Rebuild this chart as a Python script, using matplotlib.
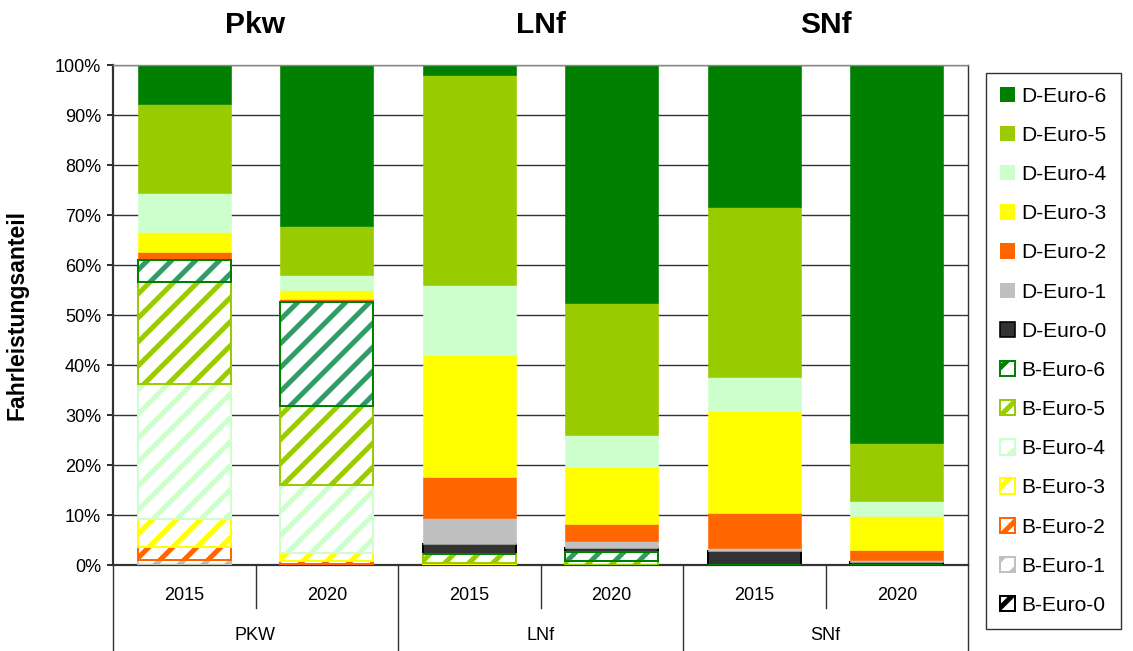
import matplotlib
matplotlib.use("Agg")
import matplotlib.pyplot as plt
from matplotlib.patches import Patch
from matplotlib.lines import Line2D

# rendered at 144 dpi so that the "//" hatch gets ~12 px stripe spacing;
# all sizes below are given in pixels and converted to points
DPI = 144
PX = 72 / DPI

plt.rcParams["font.family"] = ["Liberation Sans", "DejaVu Sans"]
plt.rcParams["hatch.linewidth"] = 5.0 * PX

# bars: Pkw 2015, Pkw 2020, LNf 2015, LNf 2020, SNf 2015, SNf 2020
years = ["2015", "2020", "2015", "2020", "2015", "2020"]
groups = ["PKW", "LNf", "SNf"]
titles = ["Pkw", "LNf", "SNf"]

# shares in %
b_euro_0 = [0.0, 0.0, 0.0, 0.0, 0.0, 0.0]
b_euro_1 = [1.0, 0.2, 0.0, 0.0, 0.0, 0.0]
b_euro_2 = [2.7, 0.6, 0.0, 0.0, 0.0, 0.0]
b_euro_3 = [5.6, 1.6, 0.5, 0.0, 0.0, 0.0]
b_euro_4 = [27.0, 13.6, 0.0, 0.0, 0.0, 0.0]
b_euro_5 = [20.4, 15.9, 1.8, 0.8, 0.0, 0.0]
b_euro_6 = [4.4, 20.8, 0.0, 1.9, 0.0, 0.0]
d_euro_0 = [0.0, 0.0, 1.9, 0.8, 2.8, 0.7]
d_euro_1 = [0.0, 0.0, 5.2, 1.4, 0.7, 0.4]
d_euro_2 = [1.6, 0.6, 8.3, 3.4, 7.0, 2.0]
d_euro_3 = [4.0, 1.7, 24.3, 11.3, 20.4, 6.8]
d_euro_4 = [7.8, 3.0, 14.0, 6.4, 6.7, 2.9]
d_euro_5 = [17.8, 9.8, 42.0, 26.4, 34.0, 11.7]
d_euro_6 = [7.7, 32.2, 2.0, 47.6, 28.4, 75.5]

# (label, values, fill/hatch colour, outline colour, hatched)
series = [
    ("B-Euro-0", b_euro_0, "#333333", "#000000", True),
    ("B-Euro-1", b_euro_1, "#C0C0C0", "#C0C0C0", True),
    ("B-Euro-2", b_euro_2, "#FF6600", "#FF6600", True),
    ("B-Euro-3", b_euro_3, "#FFFF00", "#FFFF00", True),
    ("B-Euro-4", b_euro_4, "#CCFFCC", "#CCFFCC", True),
    ("B-Euro-5", b_euro_5, "#99CC00", "#99CC00", True),
    ("B-Euro-6", b_euro_6, "#339966", "#008000", True),
    ("D-Euro-0", d_euro_0, "#333333", "#000000", False),
    ("D-Euro-1", d_euro_1, "#C0C0C0", "#C0C0C0", False),
    ("D-Euro-2", d_euro_2, "#FF6600", "#FF6600", False),
    ("D-Euro-3", d_euro_3, "#FFFF00", "#FFFF00", False),
    ("D-Euro-4", d_euro_4, "#CCFFCC", "#CCFFCC", False),
    ("D-Euro-5", d_euro_5, "#99CC00", "#99CC00", False),
    ("D-Euro-6", d_euro_6, "#008000", "#008000", False),
]

fig = plt.figure(figsize=(1133 / DPI, 651 / DPI), dpi=DPI)
ax = fig.add_axes([113 / 1133, 1 - 565 / 651, 855 / 1133, 500 / 651])

x = [i + 0.5 for i in range(len(years))]
width = 0.65
bottom = [0.0] * len(years)
handles = []
for label, vals, color, edge, hatched in series:
    if hatched:
        ax.bar(x, vals, width, bottom=bottom, color="white", edgecolor=color,
               hatch="//", linewidth=0, zorder=2)
        ax.bar(x, vals, width, bottom=bottom, fill=False, edgecolor=edge,
               linewidth=2.0 * PX if any(vals) else 0, zorder=3)
        handles.append(Patch(facecolor="white", edgecolor=edge, hatch="//",
                             linewidth=2.0 * PX, label=label))
    else:
        lw = 2.0 * PX if edge != color else 0.6 * PX
        ax.bar(x, vals, width, bottom=bottom, color=color, edgecolor=edge,
               linewidth=lw, zorder=2)
        handles.append(Patch(facecolor=color, edgecolor=edge,
                             linewidth=1.6 * PX if edge != color else 0,
                             label=label))
    bottom = [b + v for b, v in zip(bottom, vals)]

ax.set_xlim(0, 6)
ax.set_ylim(0, 100)
ax.set_yticks(range(0, 101, 10))
ax.set_yticklabels([f"{v}%" for v in range(0, 101, 10)], fontsize=18 * PX)
ax.set_xticks([])
ax.yaxis.grid(True, color="#333333", linewidth=1.4 * PX)
ax.set_axisbelow(True)
ax.tick_params(axis="y", length=6 * PX, width=1.6 * PX, pad=6 * PX)
ax.set_ylabel("Fahrleistungsanteil", fontsize=23 * PX, fontweight="bold")
ax.yaxis.set_label_coords(-0.099, 0.5)

for side in ["left", "bottom"]:
    ax.spines[side].set_color("#333333")
    ax.spines[side].set_linewidth(2.2 * PX)
ax.spines["top"].set_color("#888888")
ax.spines["top"].set_linewidth(1.4 * PX)
ax.spines["right"].set_color("#333333")
ax.spines["right"].set_linewidth(1.4 * PX)

# category axis below the plot
tr = ax.get_xaxis_transform()
for i, yr in enumerate(years):
    ax.text(i + 0.5, -0.062, yr, transform=tr, ha="center", va="center",
            fontsize=18 * PX)
for i in range(7):
    y_end = -0.172 if i % 2 == 0 else -0.086
    ax.add_line(Line2D([i, i], [0, y_end], transform=tr, color="#333333",
                       linewidth=1.4 * PX, clip_on=False))
for g, (grp, ttl) in enumerate(zip(groups, titles)):
    ax.text(2 * g + 1, -0.142, grp, transform=tr, ha="center", va="center",
            fontsize=18 * PX)
    ax.text(2 * g + 1, 1.08, ttl, transform=tr, ha="center", va="center",
            fontsize=30 * PX, fontweight="bold")

leg = fig.legend(handles=handles[::-1], loc="upper left",
                 bbox_to_anchor=(986 / 1133, 1 - 73 / 651), fontsize=21 * PX,
                 frameon=True, fancybox=False, edgecolor="black",
                 handlelength=0.75, handleheight=0.75, handletextpad=0.3,
                 labelspacing=0.96, borderpad=0.65, borderaxespad=0)
leg.get_frame().set_linewidth(1.4 * PX)

fig.savefig("out.png", dpi=DPI)
